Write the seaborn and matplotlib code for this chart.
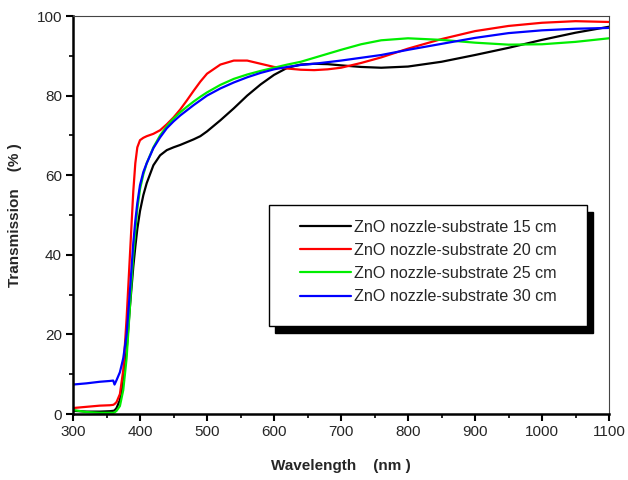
import matplotlib
matplotlib.use("Agg")
import matplotlib.pyplot as plt
import seaborn as sns
import pandas as pd
from matplotlib.patches import Rectangle
from matplotlib.ticker import MultipleLocator

wavelength = [300, 320, 340, 355, 360, 362, 365, 370, 375, 380, 385, 390, 393, 396, 400,
              405, 410, 420, 430, 440, 450, 460, 470, 480, 490, 500, 520, 540, 560, 580,
              600, 620, 640, 660, 680, 700, 730, 760, 800, 850, 900, 950, 1000, 1050, 1100]

t_15cm = [0.8, 0.6, 0.6, 0.7, 0.8, 0.9, 1.5, 3.5, 8, 16, 27, 37, 42, 46.5, 51,
          55, 58, 62.5, 65, 66.3, 67, 67.6, 68.3, 69, 69.8, 71, 73.8, 76.8, 80, 82.8,
          85.2, 87, 87.8, 88, 87.9, 87.6, 87.2, 87.0, 87.3, 88.5, 90.2, 92, 94, 95.8, 97.3]

t_20cm = [1.5, 1.8, 2.1, 2.2, 2.3, 2.5, 3, 5, 11, 24, 40, 56, 63, 67, 68.8,
          69.4, 69.8, 70.4, 71.3, 72.8, 74.5, 76.5, 78.8, 81.2, 83.5, 85.5, 87.8, 88.8, 88.8, 88,
          87.2, 86.8, 86.5, 86.4, 86.6, 87, 88.2, 89.6, 91.8, 94.2, 96.2, 97.5, 98.3, 98.7, 98.5]

t_25cm = [1.0, 0.5, 0.3, 0.3, 0.3, 0.4, 0.8, 2, 6, 14, 27, 40, 46, 51.5, 56.5,
          60.2, 63, 67, 70, 72.3, 74.2, 75.8, 77.2, 78.5, 79.7, 80.8, 82.7, 84.2, 85.3, 86.2,
          87, 87.8, 88.5, 89.5, 90.5, 91.5, 92.9, 93.9, 94.4, 94, 93.3, 92.8, 92.9, 93.5, 94.4]

t_30cm = [7.4, 7.7, 8.1, 8.3, 8.4, 7.4, 8.5, 10.5, 14, 20, 31, 43, 48.5, 53, 57.5,
          60.8, 63, 66.8, 69.5, 71.8, 73.5, 75, 76.3, 77.6, 78.8, 80, 81.8, 83.3, 84.6, 85.7,
          86.6, 87.2, 87.7, 88, 88.4, 88.8, 89.5, 90.2, 91.5, 93, 94.5, 95.7, 96.4, 96.8, 97]

labels = ["ZnO nozzle-substrate 15 cm", "ZnO nozzle-substrate 20 cm",
          "ZnO nozzle-substrate 25 cm", "ZnO nozzle-substrate 30 cm"]
colors = ["#000000", "#ff0000", "#00ee00", "#0000ff"]

frames = []
for lab, vals in zip(labels, [t_15cm, t_20cm, t_25cm, t_30cm]):
    frames.append(pd.DataFrame({"Wavelength": wavelength, "T": vals, "Sample": lab}))
df = pd.concat(frames, ignore_index=True)

sns.set_style("white")
plt.rcParams["font.family"] = ["Liberation Sans", "DejaVu Sans"]

fig = plt.figure(figsize=(6.28, 4.80), dpi=100)
ax = fig.add_axes([73 / 628, 1 - 414 / 480, 536 / 628, 398 / 480])

sns.lineplot(data=df, x="Wavelength", y="T", hue="Sample", palette=colors,
             hue_order=labels, linewidth=1.6, ax=ax, legend=True, sort=False)

ax.set_xlim(300, 1100)
ax.set_ylim(0, 100)
ax.xaxis.set_major_locator(MultipleLocator(100))
ax.xaxis.set_minor_locator(MultipleLocator(50))
ax.yaxis.set_major_locator(MultipleLocator(20))
ax.yaxis.set_minor_locator(MultipleLocator(10))
ax.tick_params(axis="both", which="major", direction="out", length=5, width=1.5,
               labelsize=11, color="black", pad=3, bottom=True, left=True)
ax.tick_params(axis="both", which="minor", direction="out", length=3, width=1.2,
               color="black", bottom=True, left=True)
for s in ["left", "bottom"]:
    ax.spines[s].set_linewidth(1.8)
    ax.spines[s].set_color("black")
for s in ["top", "right"]:
    ax.spines[s].set_linewidth(0.8)
    ax.spines[s].set_color("#444444")

ax.set_xlabel("Wavelength    (nm )", fontsize=11, fontweight="bold", labelpad=14)
ax.set_ylabel("Transmission    (% )", fontsize=11, fontweight="bold", labelpad=10)

# legend box with shadow
bx0, by0 = (269 - 73) / 536, (414 - 326) / 398
bw, bh = (587 - 269) / 536, (326 - 205) / 398
ax.add_patch(Rectangle((bx0 + 6 / 536, by0 - 7 / 398), bw, bh, transform=ax.transAxes,
                       facecolor="black", edgecolor="black", zorder=5, clip_on=False))
ax.add_patch(Rectangle((bx0, by0), bw, bh, transform=ax.transAxes,
                       facecolor="white", edgecolor="black", linewidth=1.0, zorder=6,
                       clip_on=False))
handles, labs = ax.get_legend_handles_labels()
leg = ax.legend(handles, labs, loc="upper left",
                bbox_to_anchor=((300 - 73) / 536, (414 - 220) / 398),
                frameon=False, fontsize=11.6, handlelength=3.15, handletextpad=0.2,
                labelspacing=0.5, borderpad=0, borderaxespad=0)
leg.set_zorder(7)
for line in leg.get_lines():
    line.set_linewidth(1.6)

fig.savefig("out.png", dpi=100, facecolor="white")
